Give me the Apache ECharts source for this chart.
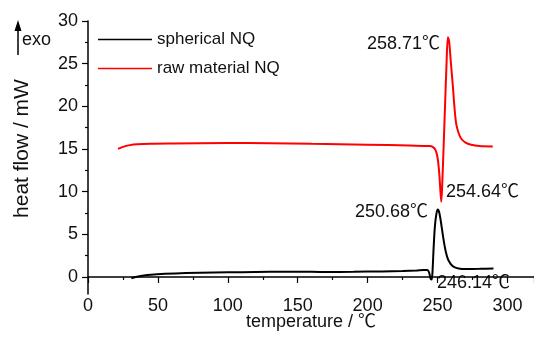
<!DOCTYPE html>
<html><head><meta charset="utf-8">
<script src="https://cdn.jsdelivr.net/npm/echarts@6/dist/echarts.min.js"></script>
<style>html,body{margin:0;padding:0;background:#fff}#c{width:534px;height:344px}</style>
</head><body><div id="c"></div>
<script>
// temperature (℃), heat flow (mW)
var sphericalNQ = [[31,-0.15],[35,0.02],[40,0.18],[45,0.27],[55,0.36],[70,0.45],[90,0.52],[110,0.56],[130,0.6],[150,0.62],[170,0.57],[190,0.6],[210,0.65],[225,0.7],[235,0.75],[240,0.8],[242.5,0.8],[243.8,0.6],[244.6,0.1],[245.2,-0.25],[245.8,-0.3],[246.4,0.6],[247.2,3.4],[248.1,5.9],[249.1,7.3],[250.1,7.9],[251,7.7],[252,6.9],[253,5.8],[254,4.7],[255,3.7],[256,2.9],[257,2.3],[258,1.9],[260,1.4],[262,1.15],[265,1.0],[270,0.93],[280,0.95],[290,1.0]];
var rawMaterialNQ = [[21.5,15.0],[25,15.25],[30,15.45],[35,15.55],[45,15.62],[60,15.65],[100,15.7],[130,15.68],[160,15.6],[200,15.5],[230,15.4],[244,15.35],[246.5,15.25],[248.5,14.9],[250,14.0],[251.2,12.2],[252.1,10.0],[252.7,8.8],[253.4,11],[254.4,15.5],[255.4,20.2],[256.4,24.8],[257.4,28.1],[258.3,27.6],[259.5,25.2],[261,22.3],[262,20.1],[263.3,18.0],[265,16.9],[267,16.2],[270,15.75],[274,15.5],[280,15.35],[289.5,15.3]];
var seriesNames = ['spherical NQ', 'raw material NQ'];
var yMajorTicks = [0,5,10,15,20,25,30];
var yMinorTicks = [2.5,7.5,12.5,17.5,22.5,27.5];
var annotations = [
  {text:'258.71℃', x:367, y:45},
  {text:'254.64℃', x:446, y:193},
  {text:'250.68℃', x:355, y:213},
  {text:'246.14℃', x:437, y:284}
];
var FONT = 'Liberation Sans, Arial, Noto Sans CJK SC, sans-serif';
var chart = echarts.init(document.getElementById('c'));
var graphics = annotations.map(function(a){
  return {type:'text', left:a.x, top:a.y-10, style:{text:a.text, fill:'#111', font:'18px ' + FONT}};
});
graphics.push({type:'line', shape:{x1:18,y1:55,x2:18,y2:27}, style:{stroke:'#000', lineWidth:1.5}});
graphics.push({type:'polygon', shape:{points:[[18,20],[14.5,31],[21.5,31]]}, style:{fill:'#000'}});
graphics.push({type:'text', left:22, top:31, style:{text:'exo', fill:'#111', font:'18px ' + FONT}});
chart.setOption({
  animation:false,
  textStyle:{fontFamily:FONT},
  grid:{left:88, right:0, top:21, bottom:50},
  legend:{
    orient:'vertical', left:98, top:31, align:'left', padding:0,
    icon:'rect', itemWidth:54, itemHeight:1.6, itemGap:12,
    textStyle:{fontSize:17, color:'#111', lineHeight:17, fontFamily:FONT},
    data:seriesNames
  },
  xAxis:{
    type:'value', min:0, max:319, interval:50,
    name:'temperature / ℃', nameLocation:'middle', nameGap:19, nameMoveOverlap:false,
    nameTextStyle:{fontSize:18, color:'#111', fontFamily:FONT},
    axisLine:{lineStyle:{color:'#000', width:1.5}},
    axisTick:{length:6, lineStyle:{color:'#000', width:1.2}},
    minorTick:{show:true, splitNumber:2, length:3, lineStyle:{color:'#000', width:1.2}},
    axisLabel:{fontSize:18, color:'#111', margin:3, showMaxLabel:false, fontFamily:FONT},
    splitLine:{show:false}, minorSplitLine:{show:false}
  },
  yAxis:[{
    type:'value', min:-2, max:30,
    name:'heat flow / mW', nameLocation:'middle', nameGap:55, nameRotate:90, nameMoveOverlap:false,
    nameTextStyle:{fontSize:21, color:'#111', fontFamily:FONT, padding:[0,0,0,18]},
    axisLine:{show:true, lineStyle:{color:'#000', width:1.5}},
    axisTick:{show:true, length:6, customValues:yMajorTicks, lineStyle:{color:'#000', width:1.2}},
    axisLabel:{fontSize:18, color:'#111', margin:10, customValues:yMajorTicks, fontFamily:FONT},
    splitLine:{show:false}
  },{
    type:'value', min:-2, max:30, position:'left', offset:0,
    axisLine:{show:false},
    axisTick:{show:true, length:3, customValues:yMinorTicks, lineStyle:{color:'#000', width:1.2}},
    axisLabel:{show:false},
    splitLine:{show:false}
  }],
  series:[
    {name:seriesNames[0], type:'line', data:sphericalNQ, showSymbol:false, symbol:'none', smooth:0.3,
     lineStyle:{color:'#000', width:2}, itemStyle:{color:'#000'}},
    {name:seriesNames[1], type:'line', data:rawMaterialNQ, showSymbol:false, symbol:'none', smooth:0.3,
     lineStyle:{color:'#ff0000', width:2}, itemStyle:{color:'#ff0000'}}
  ],
  graphic:graphics
});
</script></body></html>
